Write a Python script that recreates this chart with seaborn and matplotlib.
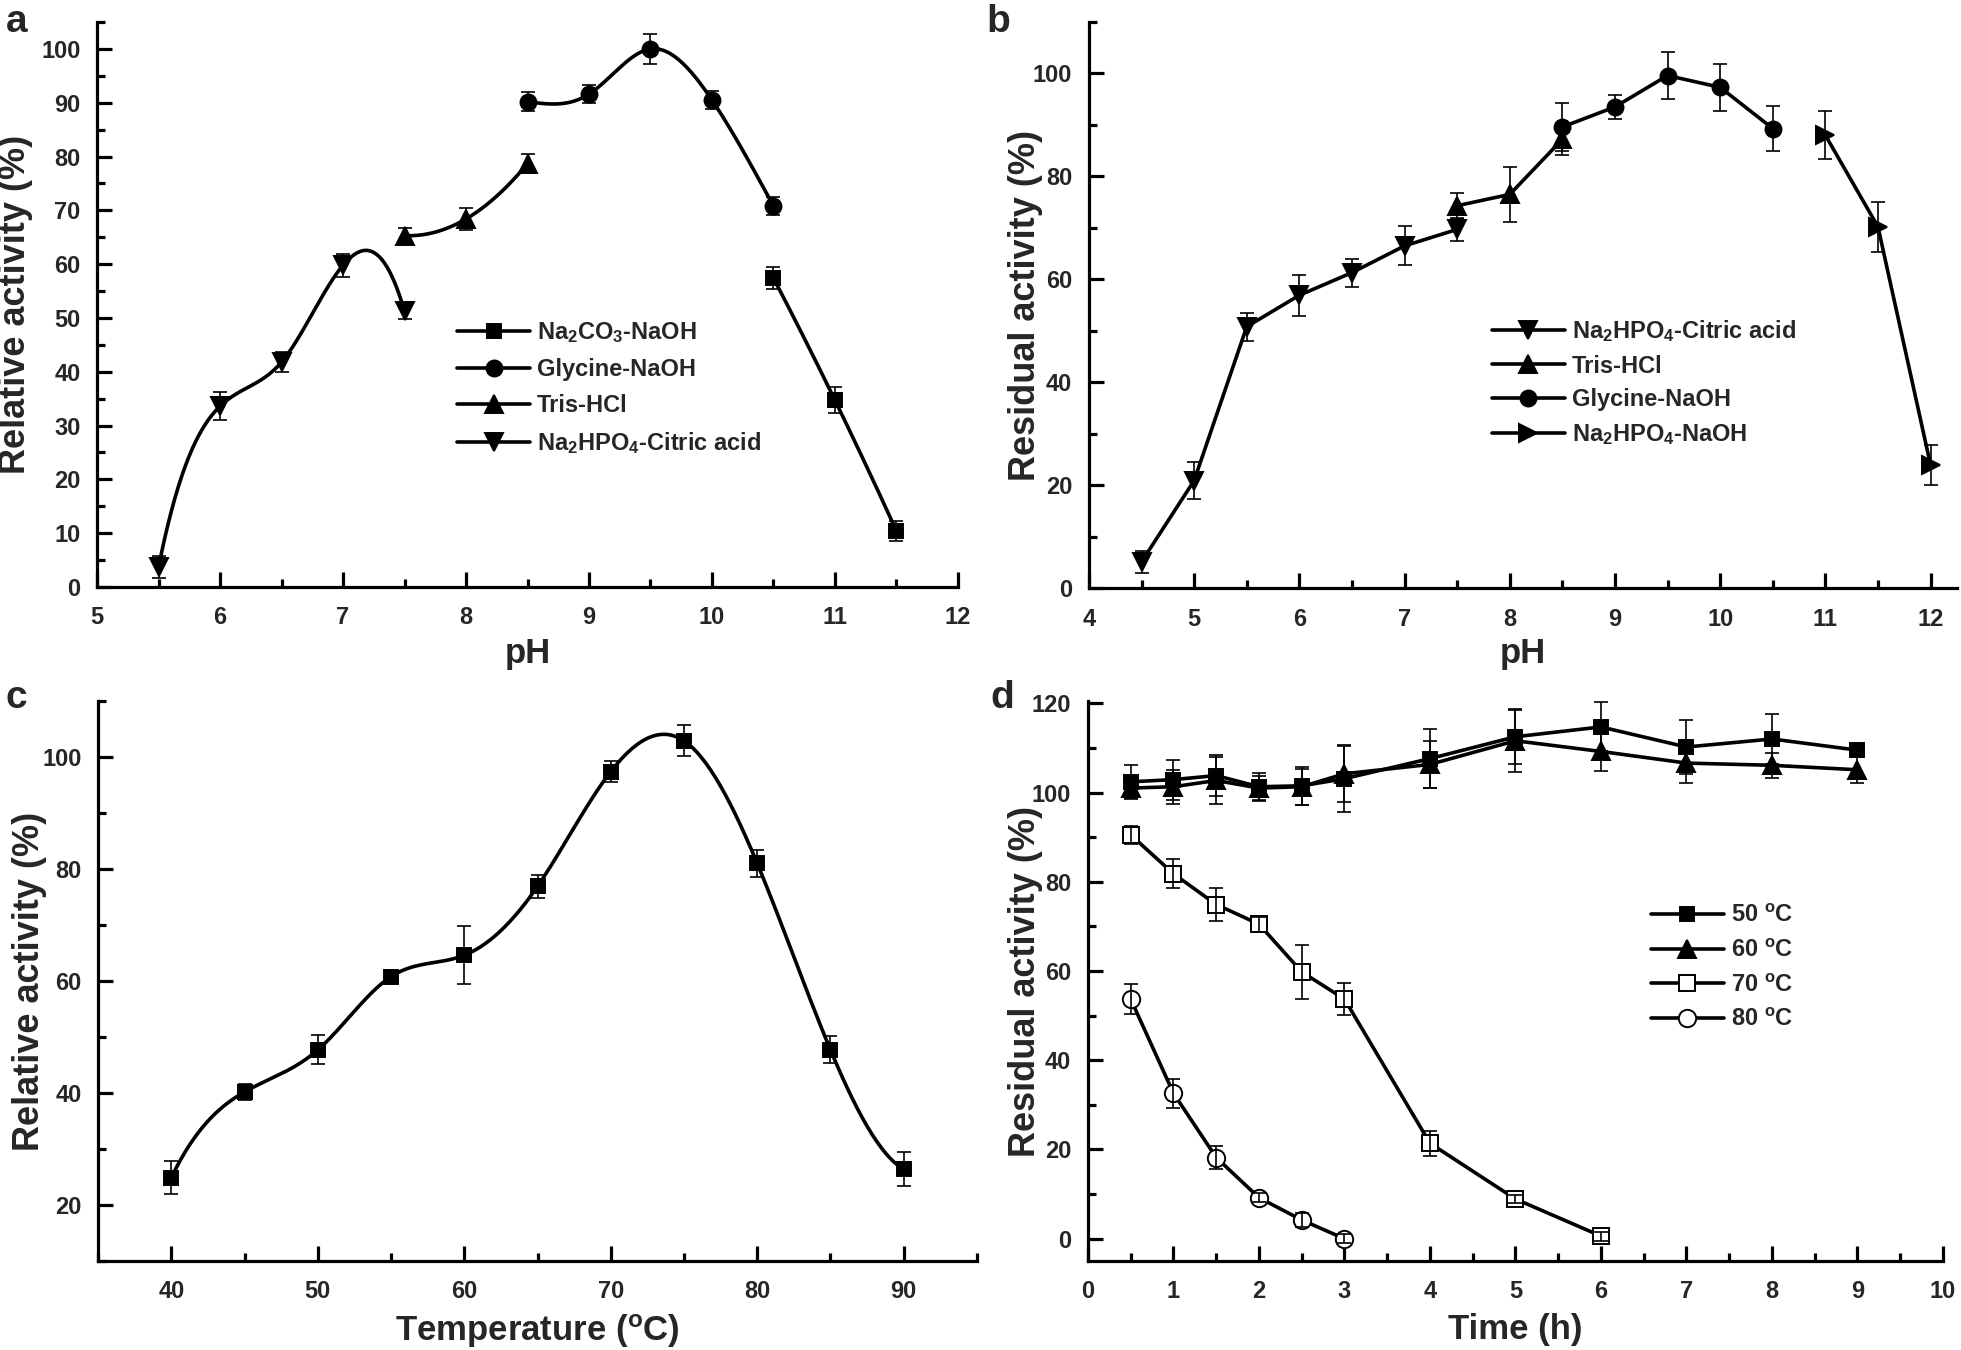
import numpy as np
import matplotlib
matplotlib.use("Agg")
import matplotlib.pyplot as plt
import seaborn as sns
from matplotlib.lines import Line2D
from matplotlib.ticker import MultipleLocator

# ---- panel a: pH optimum (relative activity %)
a_citric_ph = [5.5, 6.0, 6.5, 7.0, 7.5]
a_citric_val = [3.7, 33.6, 41.8, 59.8, 51.2]
a_citric_err = [2.0, 2.6, 1.8, 2.1, 1.4]
a_tris_ph = [7.5, 8.0, 8.5]
a_tris_val = [65.3, 68.4, 78.7]
a_tris_err = [1.4, 2.1, 1.8]
a_gly_ph = [8.5, 9.0, 9.5, 10.0, 10.5]
a_gly_val = [90.2, 91.6, 100.0, 90.5, 70.8]
a_gly_err = [1.8, 1.7, 2.8, 1.7, 1.7]
a_carb_ph = [10.5, 11.0, 11.5]
a_carb_val = [57.4, 34.7, 10.4]
a_carb_err = [2.0, 2.4, 1.8]

# ---- panel b: pH stability (residual activity %)
b_citric_ph = [4.5, 5.0, 5.5, 6.0, 6.5, 7.0, 7.5]
b_citric_val = [5.1, 20.9, 50.8, 56.9, 61.3, 66.5, 69.7]
b_citric_err = [2.1, 3.5, 2.7, 4.0, 2.7, 3.8, 2.2]
b_tris_ph = [7.5, 8.0, 8.5]
b_tris_val = [74.3, 76.5, 87.2]
b_tris_err = [2.5, 5.4, 3.0]
b_gly_ph = [8.5, 9.0, 9.5, 10.0, 10.5]
b_gly_val = [89.6, 93.5, 99.6, 97.3, 89.3]
b_gly_err = [4.6, 2.3, 4.5, 4.5, 4.4]
b_naoh_ph = [11.0, 11.5, 12.0]
b_naoh_val = [88.0, 70.2, 23.9]
b_naoh_err = [4.7, 4.8, 3.9]

# ---- panel c: temperature optimum
c_temp = [40, 45, 50, 55, 60, 65, 70, 75, 80, 85, 90]
c_val = [24.9, 40.2, 47.7, 60.8, 64.6, 76.9, 97.4, 102.9, 81.0, 47.7, 26.4]
c_err = [3.0, 1.4, 2.6, 0.5, 5.2, 2.1, 1.9, 2.8, 2.4, 2.4, 3.0]

# ---- panel d: thermostability
d_time_long = [0.5, 1, 1.5, 2, 2.5, 3, 4, 5, 6, 7, 8, 9]
d_50_val = [102.4, 102.9, 103.8, 101.3, 101.5, 103.1, 107.6, 112.5, 114.7, 110.2, 112.0, 109.5]
d_50_err = [3.7, 4.5, 4.5, 3.0, 4.3, 7.5, 6.6, 6.2, 5.5, 6.0, 5.6, 1.0]
d_60_val = [101.0, 101.3, 102.7, 101.0, 101.3, 104.2, 106.3, 111.6, 109.2, 106.6, 106.1, 105.1]
d_60_err = [2.5, 3.8, 5.2, 2.8, 4.0, 6.3, 5.3, 7.0, 4.3, 4.5, 2.8, 3.0]
d_time_70 = [0.5, 1, 1.5, 2, 2.5, 3, 4, 5, 6]
d_70_val = [90.5, 81.8, 74.9, 70.5, 59.8, 53.7, 21.4, 8.9, 0.6]
d_70_err = [2.0, 3.3, 3.8, 1.7, 6.0, 3.6, 2.8, 1.0, 1.0]
d_time_80 = [0.5, 1, 1.5, 2, 2.5, 3]
d_80_val = [53.7, 32.6, 18.2, 9.2, 4.2, 0.0]
d_80_err = [3.4, 3.2, 2.6, 1.0, 1.5, 1.0]

LW = 2.6
SPINE = 2.3


def spline_curve(x, y, ends="notaknot", num=300):
    # smooth connecting curve through the points, like Origin's spline line
    x = np.asarray(x, float)
    y = np.asarray(y, float)
    n = len(x)
    h = np.diff(x)
    A = np.zeros((n, n))
    r = np.zeros(n)
    for i in range(1, n - 1):
        A[i, i - 1] = h[i - 1]
        A[i, i] = 2 * (h[i - 1] + h[i])
        A[i, i + 1] = h[i]
        r[i] = 6 * ((y[i + 1] - y[i]) / h[i] - (y[i] - y[i - 1]) / h[i - 1])
    if ends == "natural":
        A[0, 0] = A[-1, -1] = 1
    elif n == 3:
        A[0, 0], A[0, 1] = 1, -1
        A[2, 1], A[2, 2] = 1, -1
    else:
        A[0, 0], A[0, 1], A[0, 2] = h[1], -(h[0] + h[1]), h[0]
        A[-1, -3], A[-1, -2], A[-1, -1] = h[-1], -(h[-2] + h[-1]), h[-2]
    M = np.linalg.solve(A, r)
    xs = np.linspace(x[0], x[-1], num)
    idx = np.clip(np.searchsorted(x, xs) - 1, 0, n - 2)
    x0, x1 = x[idx], x[idx + 1]
    hh = x1 - x0
    ys = (M[idx] * (x1 - xs) ** 3 + M[idx + 1] * (xs - x0) ** 3) / (6 * hh) \
        + (y[idx] / hh - M[idx] * hh / 6) * (x1 - xs) \
        + (y[idx + 1] / hh - M[idx + 1] * hh / 6) * (xs - x0)
    return xs, ys


def draw_series(ax, x, y, err, marker, ms, smooth=None, mfc="black"):
    if smooth:
        xs, ys = spline_curve(x, y, ends=smooth)
    else:
        xs, ys = x, y
    sns.lineplot(x=xs, y=ys, ax=ax, color="black", lw=LW, sort=False,
                 estimator=None, legend=False, zorder=2)
    ax.plot(x, y, ls="none", marker=marker, ms=ms, mfc=mfc, mec="black",
            mew=1.4, zorder=3)
    ax.errorbar(x, y, yerr=err, fmt="none", ecolor="black", elinewidth=1.2,
                capsize=5, capthick=1.2, zorder=4)


def style_axis(ax, xlim, ylim, xmaj, xmin, ymaj, ymin):
    ax.set_xlim(*xlim)
    ax.set_ylim(*ylim)
    ax.xaxis.set_major_locator(MultipleLocator(xmaj))
    ax.xaxis.set_minor_locator(MultipleLocator(xmin))
    ax.yaxis.set_major_locator(MultipleLocator(ymaj))
    ax.yaxis.set_minor_locator(MultipleLocator(ymin))
    sns.despine(ax=ax)
    for s in ["left", "bottom"]:
        ax.spines[s].set_linewidth(SPINE)
        ax.spines[s].set_color("black")
    ax.tick_params(which="both", direction="in", width=SPINE, color="black",
                   top=False, right=False)
    ax.tick_params(which="major", length=10.5, labelsize=17)
    ax.tick_params(axis="x", which="major", pad=14)
    ax.tick_params(axis="y", which="major", pad=12)
    ax.tick_params(which="minor", length=6)
    for lab in ax.get_xticklabels() + ax.get_yticklabels():
        lab.set_fontweight("bold")
    ax.grid(False)


def add_legend(ax, handles, labels, anchor, spacing):
    ax.legend(handles, labels, loc="upper left", bbox_to_anchor=anchor,
              frameon=False, borderpad=0, borderaxespad=0, handlelength=3.1,
              handletextpad=0.3, labelspacing=spacing,
              prop=dict(family=["Liberation Sans Narrow", "Liberation Sans"],
                        weight="bold", size=17))


def h(marker, ms, mfc="black"):
    return Line2D([], [], color="black", lw=LW, marker=marker, ms=ms,
                  mfc=mfc, mec="black", mew=1.4)


sns.set_theme(style="ticks")
plt.rcParams["font.family"] = ["Liberation Sans", "DejaVu Sans"]
plt.rcParams["font.weight"] = "bold"
plt.rcParams["mathtext.fontset"] = "custom"
plt.rcParams["mathtext.rm"] = "Liberation Sans:bold"
plt.rcParams["mathtext.it"] = "Liberation Sans:bold"
plt.rcParams["mathtext.bf"] = "Liberation Sans:bold"
plt.rcParams["mathtext.default"] = "rm"

fig = plt.figure(figsize=(19.61, 13.5), dpi=100)
ax_a = fig.add_axes([0.0495, 0.5652, 0.4390, 0.4185])
ax_b = fig.add_axes([0.5553, 0.5644, 0.4426, 0.4193])
ax_c = fig.add_axes([0.0500, 0.0659, 0.4482, 0.4148])
ax_d = fig.add_axes([0.5548, 0.0659, 0.4360, 0.4148])

XL = dict(fontsize=25, fontweight="bold")
YL = dict(fontsize=26, fontweight="bold")

# panel a
draw_series(ax_a, a_citric_ph, a_citric_val, a_citric_err, "v", 13, smooth="notaknot")
draw_series(ax_a, a_tris_ph, a_tris_val, a_tris_err, "^", 13, smooth="notaknot")
draw_series(ax_a, a_gly_ph, a_gly_val, a_gly_err, "o", 11.5, smooth="natural")
draw_series(ax_a, a_carb_ph, a_carb_val, a_carb_err, "s", 10.5, smooth="notaknot")
style_axis(ax_a, (5, 12), (0, 105), 1, 0.5, 10, 5)
ax_a.set_xlabel("pH", **XL)
ax_a.set_ylabel("Relative activity (%)", **YL)
ax_a.xaxis.set_label_coords(0.5, -0.088)
ax_a.yaxis.set_label_coords(-0.075, 0.5)
add_legend(ax_a, [h("s", 10.5), h("o", 11.5), h("^", 13), h("v", 13)],
           ["Na$_2$CO$_3$-NaOH", "Glycine-NaOH", "Tris-HCl",
            "Na$_2$HPO$_4$-Citric acid"], (0.418, 0.472), 0.55)

# panel b
draw_series(ax_b, b_citric_ph, b_citric_val, b_citric_err, "v", 13)
draw_series(ax_b, b_tris_ph, b_tris_val, b_tris_err, "^", 13)
draw_series(ax_b, b_gly_ph, b_gly_val, b_gly_err, "o", 11.5)
draw_series(ax_b, b_naoh_ph, b_naoh_val, b_naoh_err, ">", 13)
style_axis(ax_b, (4, 12.25), (0, 110), 1, 0.5, 20, 10)
ax_b.set_xlabel("pH", **XL)
ax_b.set_ylabel("Residual activity (%)", **YL)
ax_b.xaxis.set_label_coords(0.5, -0.087)
ax_b.yaxis.set_label_coords(-0.053, 0.5)
add_legend(ax_b, [h("v", 13), h("^", 13), h("o", 11.5), h(">", 13)],
           ["Na$_2$HPO$_4$-Citric acid", "Tris-HCl", "Glycine-NaOH",
            "Na$_2$HPO$_4$-NaOH"], (0.464, 0.477), 0.45)

# panel c
draw_series(ax_c, c_temp, c_val, c_err, "s", 10.5, smooth="notaknot")
style_axis(ax_c, (35, 95), (10, 110), 10, 5, 20, 10)
ax_c.set_xlabel("Temperature ($^{o}$C)", **XL)
ax_c.set_ylabel("Relative activity (%)", **YL)
ax_c.xaxis.set_label_coords(0.5, -0.092)
ax_c.yaxis.set_label_coords(-0.058, 0.5)

# panel d
draw_series(ax_d, d_time_long, d_50_val, d_50_err, "s", 10.5)
draw_series(ax_d, d_time_long, d_60_val, d_60_err, "^", 13)
draw_series(ax_d, d_time_70, d_70_val, d_70_err, "s", 11.5, mfc="white")
draw_series(ax_d, d_time_80, d_80_val, d_80_err, "o", 12.5, mfc="white")
style_axis(ax_d, (0, 10), (-5, 120.5), 1, 0.5, 20, 10)
ax_d.set_xlabel("Time (h)", **XL)
ax_d.set_ylabel("Residual activity (%)", **YL)
ax_d.xaxis.set_label_coords(0.5, -0.092)
ax_d.yaxis.set_label_coords(-0.053, 0.5)
add_legend(ax_d, [h("s", 10.5), h("^", 13), h("s", 11.5, "white"),
                  h("o", 12.5, "white")],
           ["50 $^{o}$C", "60 $^{o}$C", "70 $^{o}$C", "80 $^{o}$C"],
           (0.658, 0.6375), 0.5)

# panel letters
for txt, x, y in [("a", 0.003, 0.997), ("b", 0.503, 0.997),
                  ("c", 0.003, 0.496), ("d", 0.505, 0.496)]:
    fig.text(x, y, txt, fontsize=28, fontweight="bold", va="top", ha="left")

fig.savefig("out.png", dpi=100)
